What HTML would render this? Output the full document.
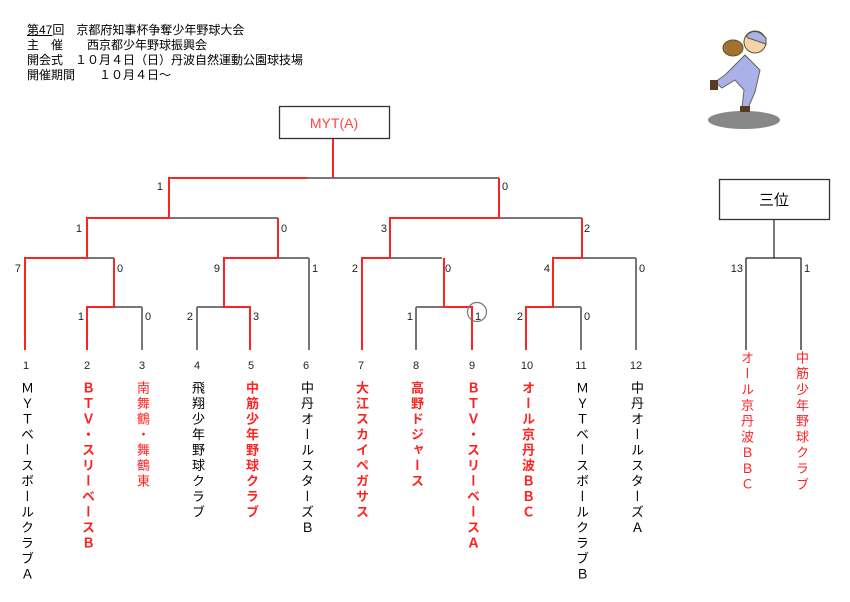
<!DOCTYPE html>
<html><head><meta charset="utf-8"><style>
body{margin:0;background:#fff;}
.wrap{position:relative;width:850px;height:602px;overflow:hidden;font-family:"Liberation Sans","Noto Sans CJK JP",sans-serif;}
.hd{position:absolute;left:27px;font-size:12px;line-height:15px;color:#000;white-space:pre;}
.v{position:absolute;writing-mode:vertical-rl;text-orientation:upright;font-size:13px;letter-spacing:2.5px;line-height:16px;width:16px;font-family:"Liberation Sans","Noto Sans CJK JP",sans-serif;}
.r{color:#f22;}
.b{font-weight:bold;}
.t{letter-spacing:2.8px;}
svg text{font-family:"Liberation Sans","Noto Sans CJK JP",sans-serif;}
</style></head><body><div class="wrap">
<div class="hd" style="top:23px"><span style="text-decoration:underline">第47</span>回　京都府知事杯争奪少年野球大会</div>
<div class="hd" style="top:38px">主　催　　西京都少年野球振興会</div>
<div class="hd" style="top:53px">開会式　１０月４日（日）丹波自然運動公園球技場</div>
<div class="hd" style="top:68px">開催期間　　１０月４日～</div>

<svg width="850" height="602" style="position:absolute;left:0;top:0">
<ellipse cx="744" cy="120" rx="36" ry="9" fill="#888"/>
<path d="M725 75 L745 55 L760 70 L755 92 L748 108 L742 108 L744 90 L735 80 L722 88 L715 82 Z" fill="#aab0e8" stroke="#665" stroke-width="1"/>
<circle cx="755" cy="42" r="11" fill="#f6d2a8" stroke="#553" stroke-width="1"/>
<path d="M746 36 Q755 26 766 38 L766 44 L748 38 Z" fill="#aab0e8" stroke="#553"/>
<ellipse cx="733" cy="48" rx="10" ry="8" fill="#a8702e" stroke="#553"/>
<rect x="710" y="80" width="8" height="10" fill="#5a3a22"/>
<rect x="740" y="106" width="10" height="6" fill="#5a3a22"/>

<g fill="none" stroke-width="2">
<g stroke="#777">
<line x1="307" y1="178" x2="499" y2="178"/>
<line x1="169" y1="218" x2="278" y2="218"/>
<line x1="499" y1="218" x2="582" y2="218"/>
<line x1="87" y1="258" x2="114" y2="258"/>
<line x1="278" y1="258" x2="309" y2="258"/>
<line x1="309" y1="258" x2="309" y2="350"/>
<line x1="389" y1="258" x2="442" y2="258"/>
<line x1="582" y1="258" x2="636" y2="258"/>
<line x1="636" y1="258" x2="636" y2="350"/>
<line x1="114" y1="307" x2="142" y2="307"/>
<line x1="142" y1="307" x2="142" y2="350"/>
<line x1="197" y1="307" x2="224" y2="307"/>
<line x1="197" y1="307" x2="197" y2="350"/>
<line x1="416" y1="307" x2="444" y2="307"/>
<line x1="416" y1="307" x2="416" y2="350"/>
<line x1="553" y1="307" x2="581" y2="307"/>
<line x1="581" y1="307" x2="581" y2="350"/>
<line x1="774" y1="219" x2="774" y2="258"/>
</g>
<g stroke="#222" stroke-width="1.3">
<line x1="746" y1="258" x2="801" y2="258"/>
<line x1="746" y1="258" x2="746" y2="350"/>
<line x1="801" y1="258" x2="801" y2="350"/>
</g>
<g stroke="#f22">
<polyline points="333,138 333,178"/>
<polyline points="307,178 169,178 169,218 87,218 87,258 25,258 25,350"/>
<polyline points="278,218 278,258 224,258 224,307 250,307 250,350"/>
<polyline points="114,258 114,307 87,307 87,350"/>
<polyline points="499,178 499,218 390,218 390,258 362,258 362,350"/>
<polyline points="444,258 444,307 472,307 472,350"/>
<polyline points="582,218 582,258 553,258 553,307 526,307 526,350"/>
</g>
</g>
<rect x="279.5" y="106.5" width="110" height="32" fill="#fff" stroke="#333" stroke-width="1.3"/>
<text x="334" y="128" font-size="14" fill="#f44" text-anchor="middle">MYT(A)</text>
<rect x="719.5" y="179.5" width="110" height="40" fill="#fff" stroke="#333" stroke-width="1.3"/>
<text x="774" y="205" font-size="15" fill="#000" text-anchor="middle">三位</text>
<circle cx="477" cy="312" r="9.5" fill="none" stroke="#777" stroke-width="1.2"/>
<g font-size="11" fill="#222">
<text x="163" y="190" text-anchor="end">1</text><text x="502" y="190">0</text>
<text x="82" y="232" text-anchor="end">1</text><text x="281" y="232">0</text>
<text x="387" y="232" text-anchor="end">3</text><text x="584" y="232">2</text>
<text x="21" y="272" text-anchor="end">7</text><text x="117" y="272">0</text>
<text x="220" y="272" text-anchor="end">9</text><text x="312" y="272">1</text>
<text x="358" y="272" text-anchor="end">2</text><text x="445" y="272">0</text>
<text x="550" y="272" text-anchor="end">4</text><text x="639" y="272">0</text>
<text x="84" y="320" text-anchor="end">1</text><text x="145" y="320">0</text>
<text x="193" y="320" text-anchor="end">2</text><text x="253" y="320">3</text>
<text x="413" y="320" text-anchor="end">1</text><text x="475" y="320">1</text>
<text x="523" y="320" text-anchor="end">2</text><text x="584" y="320">0</text>
<text x="743" y="272" text-anchor="end">13</text><text x="804" y="272">1</text>
</g>
<g font-size="11" fill="#222" text-anchor="middle">
<text x="26" y="369">1</text><text x="87" y="369">2</text><text x="142" y="369">3</text>
<text x="197" y="369">4</text><text x="251" y="369">5</text><text x="306" y="369">6</text>
<text x="361" y="369">7</text><text x="416" y="369">8</text><text x="472" y="369">9</text>
<text x="527" y="369">10</text><text x="581" y="369">11</text><text x="636" y="369">12</text>
</g>
</svg>

<div class="v" style="left:18px;top:381px">ＭＹＴベースボールクラブＡ</div>
<div class="v r b" style="left:79px;top:381px">ＢＴＶ・スリーベースＢ</div>
<div class="v r" style="left:134px;top:381px">南舞鶴・舞鶴東</div>
<div class="v" style="left:189px;top:381px">飛翔少年野球クラブ</div>
<div class="v r b" style="left:243px;top:381px">中筋少年野球クラブ</div>
<div class="v" style="left:298px;top:381px">中丹オールスターズＢ</div>
<div class="v r b" style="left:353px;top:381px">大江スカイペガサス</div>
<div class="v r b" style="left:408px;top:381px">高野ドジャース</div>
<div class="v r b" style="left:464px;top:381px">ＢＴＶ・スリーベースＡ</div>
<div class="v r b" style="left:519px;top:381px">オール京丹波ＢＢＣ</div>
<div class="v" style="left:573px;top:381px">ＭＹＴベースボールクラブＢ</div>
<div class="v" style="left:628px;top:381px">中丹オールスターズＡ</div>
<div class="v r t" style="left:738px;top:351px">オール京丹波ＢＢＣ</div>
<div class="v r t" style="left:793px;top:351px">中筋少年野球クラブ</div>
</div></body></html>
